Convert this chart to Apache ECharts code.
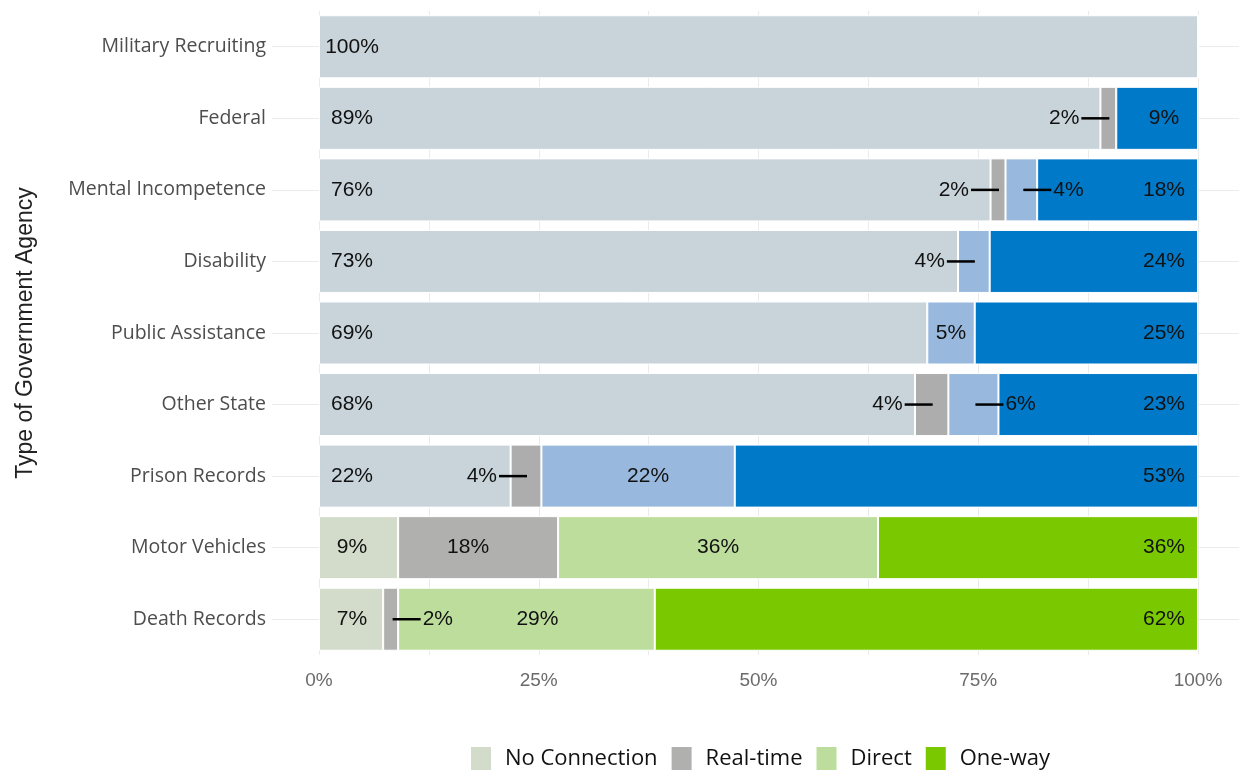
<!DOCTYPE html>
<html>
<head>
<meta charset="utf-8">
<script src="https://cdn.jsdelivr.net/npm/echarts@6/dist/echarts.min.js"></script>
<style>
  html, body { margin: 0; padding: 0; background: #ffffff; }
  #chart { width: 1239px; height: 773px; }
</style>
</head>
<body>
<div id="chart"></div>
<script>
// ---------- data ----------
const categories = ['Military Recruiting', 'Federal', 'Mental Incompetence', 'Disability',
  'Public Assistance', 'Other State', 'Prison Records', 'Motor Vehicles', 'Death Records'];
const seriesNames = ['No Connection', 'Real-time', 'Direct', 'One-way'];
const noConnection = [100, 88.9, 76.4, 72.7, 69.2, 67.8, 21.8, 9.0, 7.3];
const realTime     = [0,   1.8,  1.7,  0,    0,    3.8,  3.5,  18.2, 1.7];
const direct       = [0,   0,    3.6,  3.6,  5.4,  5.7,  22.0, 36.4, 29.2];
const oneWay       = [0,   9.3,  18.3, 23.7, 25.4, 22.7, 52.7, 36.4, 61.8];
const xTicks = [0, 25, 50, 75, 100];

// ---------- styling ----------
const greenRows = ['Motor Vehicles', 'Death Records'];
const bluePalette  = ['#c8d3da', '#adadad', '#98b9dd', '#0079c8'];
const greenPalette = ['#d3dbca', '#b0b0af', '#bcdd9c', '#7ac800'];
const outsideLabels = {
  'Real-time': { 'Federal': 'left', 'Mental Incompetence': 'left', 'Other State': 'left',
                 'Prison Records': 'left', 'Death Records': 'right' },
  'Direct': { 'Mental Incompetence': 'right', 'Disability': 'left', 'Other State': 'right' }
};
const labelNudge = {
  'Real-time': { 'Motor Vehicles': -10 },
  'Direct': { 'Prison Records': 10, 'Death Records': 11 }
};
const values = [noConnection, realTime, direct, oneWay];

function sideOf(si, di) {
  const m = outsideLabels[seriesNames[si]];
  return m ? m[categories[di]] : undefined;
}
function nudgeOf(si, di) {
  const m = labelNudge[seriesNames[si]];
  return (m && m[categories[di]]) || 0;
}

const labelFont = 'Liberation Sans, Arial, sans-serif';
const uiFont = 'Open Sans, Noto Sans, sans-serif';

const series = seriesNames.map(function (name, si) {
  return {
    name: name,
    type: 'bar',
    stack: 'total',
    barWidth: 63,
    xAxisIndex: 0,
    yAxisIndex: 0,
    itemStyle: { color: greenPalette[si], borderColor: '#ffffff', borderWidth: 1 },
    label: {
      show: true,
      color: '#111111',
      fontFamily: labelFont,
      fontSize: 21,
      formatter: function (p) {
        if (!p.value) return '';
        const t = Math.round(p.value) + '%';
        const side = sideOf(p.seriesIndex, p.dataIndex);
        if (side === 'left') return '{t|' + t + '}{l| }';
        if (side === 'right') return '{l| }{t|' + t + '}';
        return '{t|' + t + '}';
      },
      rich: {
        t: { color: '#111111', fontFamily: labelFont, fontSize: 21, padding: [0, 2, 0, 2] },
        l: { width: 28, height: 2.5, backgroundColor: '#000000', verticalAlign: 'middle' }
      }
    },
    labelLayout: function (p) {
      const r = p.rect;
      const si = p.seriesIndex, di = p.dataIndex;
      const y = r.y + r.height / 2;
      const side = sideOf(si, di);
      if (si === 0) return { x: r.x + 33, y: y, align: 'center', verticalAlign: 'middle' };
      if (si === 3) return { x: r.x + r.width - 34, y: y, align: 'center', verticalAlign: 'middle' };
      if (side === 'left') return { x: r.x + r.width / 2 + 1, y: y, align: 'right', verticalAlign: 'middle' };
      if (side === 'right') return { x: r.x + r.width / 2 + 2, y: y, align: 'left', verticalAlign: 'middle' };
      return { x: r.x + r.width / 2 + nudgeOf(si, di), y: y, align: 'center', verticalAlign: 'middle' };
    },
    emphasis: { disabled: true },
    data: values[si].map(function (v, di) {
      const pal = greenRows.indexOf(categories[di]) >= 0 ? greenPalette : bluePalette;
      return { value: v, itemStyle: { color: pal[si] } };
    })
  };
});

// decorative horizontal guide lines through the category centres
series.push({ type: 'line', xAxisIndex: 1, yAxisIndex: 1, data: [], silent: true });

const option = {
  animation: false,
  backgroundColor: '#ffffff',
  grid: [
    { left: 319, right: 41, top: 11, bottom: 118 },
    { left: 272, right: 0, top: 11 + 35.7, bottom: 118 + 35.7 }
  ],
  legend: {
    left: 469,
    top: 745,
    padding: 0,
    itemWidth: 22,
    itemHeight: 25,
    itemGap: 12,
    icon: 'rect',
    data: seriesNames,
    textStyle: { color: '#111111', fontFamily: uiFont, fontSize: 22, padding: [0, 0, 0, 8] }
  },
  xAxis: [
    {
      type: 'value', min: 0, max: 100, interval: 12.5, gridIndex: 0,
      axisLine: { show: false }, axisTick: { show: false },
      splitLine: { show: true, lineStyle: { color: '#ebebeb', width: 1 } },
      axisLabel: {
        margin: 16, color: '#6b6b6b', fontSize: 19, fontFamily: labelFont,
        formatter: function (v) { return xTicks.indexOf(v) >= 0 ? v + '%' : ''; }
      }
    },
    { type: 'value', min: 0, max: 1, gridIndex: 1, show: false, splitLine: { show: false } }
  ],
  yAxis: [
    {
      type: 'category', data: categories, inverse: true, gridIndex: 0,
      axisLine: { show: false }, axisTick: { show: false }, splitLine: { show: false },
      axisLabel: { margin: 53, color: '#4d4d4d', fontSize: 19.5, fontFamily: uiFont },
      name: 'Type of Government Agency',
      nameLocation: 'middle',
      nameGap: 282,
      nameRotate: 90,
      nameTextStyle: { color: '#222222', fontSize: 23, fontFamily: labelFont }
    },
    {
      type: 'value', min: 0, max: 8, interval: 1, gridIndex: 1,
      axisLine: { show: false }, axisTick: { show: false }, axisLabel: { show: false },
      splitLine: { show: true, lineStyle: { color: '#ebebeb', width: 1 } }
    }
  ],
  series: series
};

const chart = echarts.init(document.getElementById('chart'), null, { renderer: 'canvas' });
chart.setOption(option);
</script>
</body>
</html>
